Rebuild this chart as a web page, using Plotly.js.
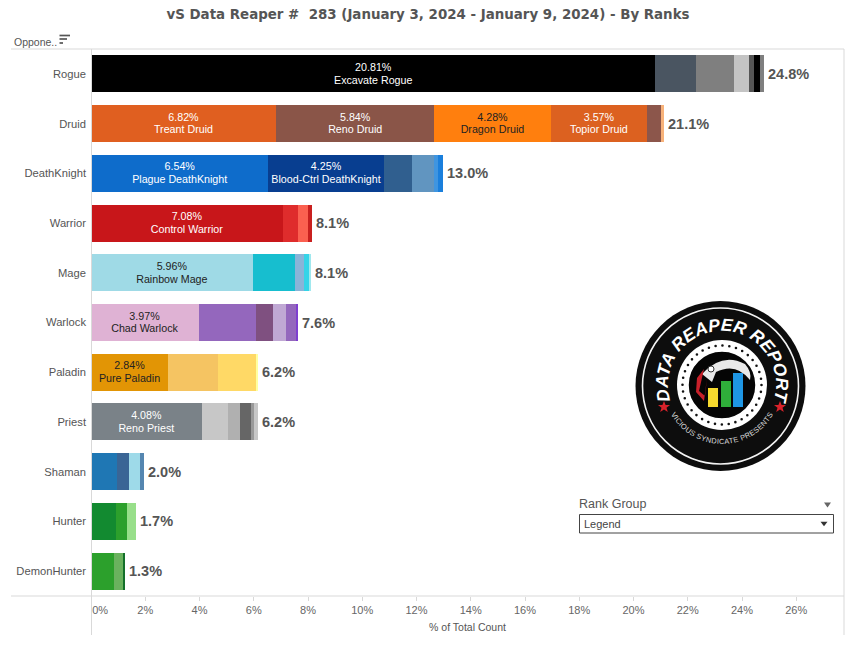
<!DOCTYPE html>
<html>
<head>
<meta charset="utf-8">
<script src="https://cdn.plot.ly/plotly-3.0.1.min.js"></script>
<style>
html,body{margin:0;padding:0;background:#fff;width:856px;height:649px;overflow:hidden}
#chart{position:absolute;left:0;top:0;width:856px;height:649px}
#logo{position:absolute;left:0;top:0;pointer-events:none}
</style>
</head>
<body>
<div id="chart"></div>
<svg id="logo" width="856" height="649" viewBox="0 0 856 649" xmlns="http://www.w3.org/2000/svg">
  <defs>
    <path id="arcTop" d="M 673.1 407.8 A 54 54 0 1 1 770.9 407.8"/>
    <path id="arcBot" d="M 663.9 395.2 A 59 59 0 0 0 780.1 395.2"/>
    <polygon id="star" points="0,-6 1.6,-1.9 6,-1.9 2.5,0.8 3.8,5 0,2.5 -3.8,5 -2.5,0.8 -6,-1.9 -1.6,-1.9"/>
  </defs>
  <circle cx="720.5" cy="386" r="85" fill="#0d0d0d"/>
  <circle cx="720.5" cy="386" r="78" fill="none" stroke="#f4f4f4" stroke-width="1.6"/>
  <text font-family="Liberation Sans" font-weight="700" font-style="italic" font-size="17.5" fill="#fff"><textPath href="#arcTop" startOffset="50%" text-anchor="middle">DATA REAPER REPORT</textPath></text>
  <text font-family="Liberation Sans" font-size="7.4" fill="#ddd" letter-spacing="0.3"><textPath href="#arcBot" startOffset="50%" text-anchor="middle">VICIOUS SYNDICATE PRESENTS</textPath></text>
  <use href="#star" x="664" y="407" fill="#d8222a"/>
  <use href="#star" x="780" y="407" fill="#d8222a"/>
  <circle cx="722" cy="385" r="45" fill="#fff"/>
  <circle cx="722" cy="385" r="39.5" fill="none" stroke="#111" stroke-width="2.6" stroke-linecap="round" stroke-dasharray="0 6.9"/>
  <circle cx="722" cy="385" r="34" fill="#050505" stroke="#fff" stroke-width="1.5"/>
  <path d="M 702 374 Q 722 352 745 364 Q 752 372 750 380 Q 736 362 716 372 L 712 382 Z" fill="#e8e8e8"/>
  <circle cx="711" cy="369" r="3" fill="#fff" stroke="#333" stroke-width="1"/>
  <path d="M 697 378 L 704 369 L 699 391 L 705 396 L 707 378 L 704 401 L 696 392 Z" fill="#c8202a"/>
  <rect x="708" y="388" width="10" height="19" fill="#f6d92e"/>
  <rect x="721" y="381" width="10" height="26" fill="#2fae3a"/>
  <rect x="733" y="373" width="10" height="34" fill="#1e96e4"/>
</svg>
<script>
// ---- data ----
const categories = ['Rogue','Druid','DeathKnight','Warrior','Mage','Warlock','Paladin','Priest','Shaman','Hunter','DemonHunter'];
const totalLabels = ['24.8%','21.1%','13.0%','8.1%','8.1%','7.6%','6.2%','6.2%','2.0%','1.7%','1.3%'];
const tickValues = [0,2,4,6,8,10,12,14,16,18,20,22,24,26];
const tickLabels = ['\u00a0\u00a0\u00a0\u00a0\u00a0\u00a00%','2%','4%','6%','8%','10%','12%','14%','16%','18%','20%','22%','24%','26%'];

const rogueValues = [20.81,1.51,1.37,0.55,0.22,0.20,0.15];
const druidValues = [6.82,5.84,4.28,3.57,0.52,0.10];
const deathKnightValues = [6.54,4.25,1.03,0.81,0.17,0.16];
const warriorValues = [7.08,0.55,0.36,0.16];
const mageValues = [5.96,1.55,0.36,0.16,0.07];
const warlockValues = [3.97,2.10,0.63,0.48,0.37,0.07];
const paladinValues = [2.84,1.85,1.40,0.06];
const priestValues = [4.08,0.96,0.44,0.41,0.11,0.15];
const shamanValues = [0.97,0.44,0.41,0.15];
const hunterValues = [0.93,0.41,0.31];
const demonHunterValues = [0.86,0.33,0.08];

const rogueColors = ['#000000','#4a5561','#7f7f7f','#c4c4c4','#555555','#000000','#7f7f7f'];
const druidColors = ['#e05f20','#8a5548','#ff7f0e','#dc6120','#8c564b','#f7b27a'];
const deathKnightColors = ['#0e6ccb','#083e90','#305f8f','#6195c0','#3f95e0','#1a7fdc'];
const warriorColors = ['#c8161a','#df2c2c','#fb6050','#c9201f'];
const mageColors = ['#9fdae6','#17becf','#8ab4d8','#35d4e8','#a0e8ee'];
const warlockColors = ['#dfb2d4','#9467bd','#7f5080','#c0a8d4','#9467bd','#7f3fd0'];
const paladinColors = ['#e29505','#f5c462','#ffd966','#ffffa0'];
const priestColors = ['#7a8288','#c7c7c7','#b0b0b0','#666666','#999999','#c7c7c7'];
const shamanColors = ['#1f77b4','#3a6595','#9edae9','#5586b0'];
const hunterColors = ['#128a30','#2ca02c','#98df8a'];
const demonHunterColors = ['#2ca02c','#6ab25e','#14702a'];

const rogueNames = ['Excavate Rogue'];
const druidNames = ['Treant Druid','Reno Druid','Dragon Druid','Topior Druid'];
const deathKnightNames = ['Plague DeathKnight','Blood-Ctrl DeathKnight'];
const warriorNames = ['Control Warrior'];
const mageNames = ['Rainbow Mage'];
const warlockNames = ['Chad Warlock'];
const paladinNames = ['Pure Paladin'];
const priestNames = ['Reno Priest'];

const allValues = [rogueValues,druidValues,deathKnightValues,warriorValues,mageValues,warlockValues,paladinValues,priestValues,shamanValues,hunterValues,demonHunterValues];
const allColors = [rogueColors,druidColors,deathKnightColors,warriorColors,mageColors,warlockColors,paladinColors,priestColors,shamanColors,hunterColors,demonHunterColors];
const allNames = [rogueNames,druidNames,deathKnightNames,warriorNames,mageNames,warlockNames,paladinNames,priestNames,[],[],[]];
const darkLabels = {'Dragon Druid':1,'Rainbow Mage':1,'Chad Warlock':1,'Pure Paladin':1};

const traces = [];
const maxSeg = Math.max(...allValues.map(a=>a.length));
for (let s=0;s<maxSeg;s++){
  const text = categories.map((c,i)=> allNames[i][s] ? allValues[i][s].toFixed(2)+'%<br>'+allNames[i][s] : '');
  traces.push({
    type:'bar', orientation:'h', y:categories,
    x:allValues.map(a=>a[s]===undefined?0:a[s]),
    width:0.745,
    marker:{color:allColors.map(a=>a[s]||'#fff'),line:{width:0}},
    text:text, texttemplate:'%{text}', textposition:'inside', insidetextanchor:'middle', textangle:0,
    constraintext:'none', cliponaxis:false,
    insidetextfont:{family:'Liberation Sans, Arial, sans-serif',size:10.7,
      color:categories.map((c,i)=>darkLabels[allNames[i][s]]?'#222':'#fff')},
    hoverinfo:'skip', showlegend:false
  });
}

const L=91,R=844,T=49,B=596;
const px=x=>(x-L)/(R-L), py=y=>1-(y-T)/(B-T);
const line=(x0,y0,x1,y1,c,w)=>({type:'line',xref:'paper',yref:'paper',x0:px(x0),y0:py(y0),x1:px(x1),y1:py(y1),line:{color:c,width:w||1},layer:'above'});
const tri=(cx,cy,w,h,c)=>({type:'path',xref:'paper',yref:'paper',
  path:`M ${px(cx-w/2)} ${py(cy-h/2)} L ${px(cx+w/2)} ${py(cy-h/2)} L ${px(cx)} ${py(cy+h/2)} Z`,fillcolor:c,line:{width:0},layer:'above'});
const note=(x,y,text,size,color,anchor,extra)=>Object.assign({xref:'paper',yref:'paper',x:px(x),y:py(y),text:text,showarrow:false,
  xanchor:anchor||'left',yanchor:'middle',font:{family:'Liberation Sans, Arial, sans-serif',size:size,color:color}},extra||{});

const totalNotes = categories.map((c,i)=>({
  xref:'x',yref:'y',x:allValues[i].reduce((p,q)=>p+q,0),y:c,text:totalLabels[i],showarrow:false,
  xanchor:'left',yanchor:'middle',xshift:2,yshift:0,
  font:{family:'Liberation Sans, Arial, sans-serif',size:14.5,color:'#555',weight:700}
}));

const layout = {
  width:856,height:649,
  paper_bgcolor:'#fff',plot_bgcolor:'#fff',
  margin:{l:L,r:856-R,t:T,b:649-B,pad:0},
  barmode:'stack',bargap:0.255,showlegend:false,
  title:{text:'vS Data Reaper #\u00a0\u00a0283 (January 3, 2024 - January 9, 2024) - By Ranks',
    font:{family:'DejaVu Sans, sans-serif',size:13.4,color:'#555',weight:700},
    x:428/856,xanchor:'center',y:1-14/649,yanchor:'middle'},
  xaxis:{range:[0,27.76],tickmode:'array',tickvals:tickValues,ticktext:tickLabels,
    ticks:'outside',ticklen:4,tickcolor:'#d8d8d8',tickwidth:1,showgrid:false,zeroline:false,showline:false,
    tickfont:{family:'Liberation Sans, Arial, sans-serif',size:11,color:'#666'},
    title:{text:'% of Total Count',font:{family:'Liberation Sans, Arial, sans-serif',size:10.5,color:'#555'},standoff:8}},
  yaxis:{type:'category',categoryorder:'array',categoryarray:categories,range:[10.5,-0.5],
    ticks:'',showgrid:false,zeroline:false,showline:false,ticklabelstandoff:4,
    tickfont:{family:'Liberation Sans, Arial, sans-serif',size:11.2,color:'#555'}},
  shapes:[
    line(11,49,844,49,'#d9d9d9'),
    line(11,596,844,596,'#d9d9d9'),
    line(91.5,49,91.5,635,'#d9d9d9'),
    line(844,49,844,635,'#d9d9d9'),
    line(59.5,35.5,70,35.5,'#555',1.7),
    line(59.5,39,67,39,'#555',1.7),
    line(59.5,43,63,43,'#555',1.7),
    {type:'rect',xref:'paper',yref:'paper',x0:px(579.5),y0:py(514.5),x1:px(833.5),y1:py(533),line:{color:'#444',width:1},fillcolor:'#fff',layer:'above'},
    tri(827.5,505,7,5,'#666'),
    tri(824,524,7,4.5,'#333')
  ],
  annotations:[
    note(11.5,42,'Oppone..',10.5,'#555'),
    note(576.5,503.5,'Rank Group',12.5,'#555'),
    note(582,524,'Legend',11,'#444')
  ].concat(totalNotes)
};
const tightenLines=()=>{
  document.querySelectorAll('#chart .bartext tspan.line').forEach(t=>{
    if(t.getAttribute('dy')==='1.3em') t.setAttribute('dy','1.2em');
  });
};
Plotly.newPlot('chart',traces,layout,{displayModeBar:false,staticPlot:true}).then(tightenLines);
</script>
</body>
</html>
